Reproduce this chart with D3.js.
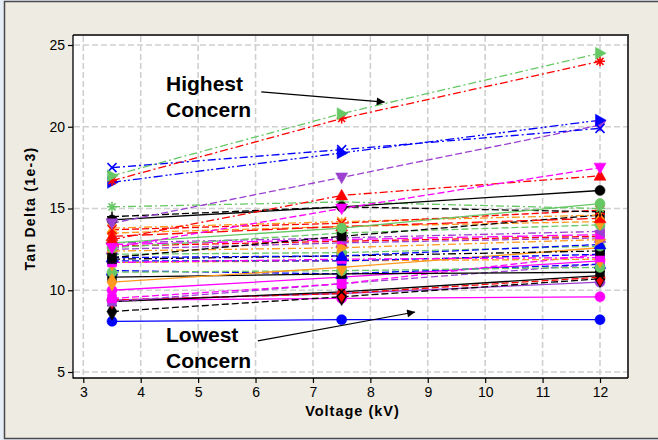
<!DOCTYPE html>
<html>
<head>
<meta charset="utf-8">
<script src="https://cdn.jsdelivr.net/npm/d3@7"></script>
<style>
  html, body { margin: 0; padding: 0; background: #e6eef7; }
  svg { display: block; font-family: "Liberation Sans", Arial, sans-serif; }
</style>
</head>
<body>
<svg id="chart" width="658" height="440"></svg>
<script>
// Voltage steps at which tan delta was measured
const voltages = [3.5, 7.5, 12];

// Axis ticks
const xTicks = [3, 4, 5, 6, 7, 8, 9, 10, 11, 12];
const yTicks = [5, 10, 15, 20, 25];

// Tan delta (1e-3) per cable sample, at 3.5 / 7.5 / 12 kV
const seriesValues = [
  [17.0, 20.8, 24.5],
  [16.7, 20.5, 24.0],
  [17.5, 18.6, 19.9],
  [16.6, 18.4, 20.4],
  [14.1, 16.9, 20.1],
  [12.6, 15.0, 17.5],
  [13.1, 15.8, 17.0],
  [14.3, 15.1, 16.1],
  [12.9, 13.8, 15.3],
  [15.1, 15.4, 15.0],
  [14.5, 15.1, 14.8],
  [13.7, 14.1, 14.9],
  [13.8, 14.2, 14.6],
  [13.3, 13.9, 14.4],
  [12.0, 13.3, 14.6],
  [13.5, 13.9, 14.2],
  [12.6, 13.5, 14.0],
  [12.9, 13.2, 13.6],
  [12.8, 13.1, 13.4],
  [12.4, 12.6, 13.1],
  [12.7, 13.0, 13.3],
  [12.5, 12.9, 13.2],
  [12.0, 12.1, 12.8],
  [12.2, 12.3, 12.7],
  [11.9, 12.1, 12.4],
  [11.7, 11.9, 12.0],
  [11.8, 11.8, 12.2],
  [11.7, 11.8, 11.9],
  [10.5, 11.4, 12.6],
  [11.1, 11.2, 11.4],
  [10.8, 11.0, 11.1],
  [11.2, 11.0, 11.6],
  [10.0, 10.8, 11.8],
  [9.5, 10.4, 12.2],
  [9.3, 10.4, 11.6],
  [9.3, 9.9, 10.9],
  [9.4, 9.8, 10.8],
  [8.7, 9.6, 10.7],
  [9.4, 9.8, 10.5],
  [9.4, 9.5, 9.6],
  [8.1, 8.2, 8.2]
];

// Line colour, dash style and marker of each sample, same order as above
const seriesColors = [
  "green", "red", "blue", "blue", "purple", "magenta", "red", "black", "green", "green",
  "black", "red", "orange", "red", "black", "orange", "green", "purple", "magenta", "orange",
  "red", "purple", "blue", "green", "black", "magenta", "blue", "orange", "orange", "green",
  "black", "blue", "magenta", "magenta", "purple", "black", "red", "black", "purple", "magenta",
  "blue"
];
const seriesDashes = [
  "dashdot", "dashdot", "dashdot", "dashdotdot", "dash", "dash", "dashdot", "solid", "solid", "dashdot",
  "dash", "dash", "dashdot", "longdash", "dash", "dash", "dash", "dashdot", "longdash", "dashdot",
  "dash", "dash", "dash", "dash", "dashdot", "dashdot", "dash", "dash", "solid", "dash",
  "solid", "dash", "solid", "dash", "dash", "solid", "dash", "dash", "solid", "solid",
  "solid"
];
const seriesMarkers = [
  "triRight", "asterisk", "cross", "triRight", "triDown", "triDown", "triUp", "circle", "circle", "asterisk",
  "plus", "cross", "cross", "triUp", "square", "diamond", "circle", "triLeft", "square", "triRight",
  "cross", "triUp", "triUp", "circle", "square", "square", "square", "diamond", "diamond", "circle",
  "square", "triUp", "circle", "square", "square", "cross", "diamond", "diamond", "circle", "circle",
  "circle"
];

const palette = {
  blue: "#0000ff", red: "#ff0000", green: "#66c864", black: "#000000",
  magenta: "#ff00ff", orange: "#ff9a1e", purple: "#9b40d0"
};
const dashArrays = {
  solid: null, dash: "7,3", longdash: "11,4", dashdot: "8,3,2,3", dashdotdot: "9,3,2,2,2,3"
};

const svg = d3.select("#chart");
const W = 658, H = 440;

// Outer panel
svg.append("rect").attr("x", 4.5).attr("y", 1.5).attr("width", W).attr("height", H - 3)
  .attr("fill", "#eeebe2").attr("stroke", "#4a4a4a").attr("stroke-width", 1.5);

const plot = { left: 73, top: 35, right: 628, bottom: 378 };

const x = d3.scaleLinear().domain([3, 12]).range([83.3, 600]);
const y = d3.scaleLinear().domain([5, 25]).range([372, 45]);

svg.append("rect").attr("x", plot.left).attr("y", plot.top)
  .attr("width", plot.right - plot.left).attr("height", plot.bottom - plot.top)
  .attr("fill", "#ffffff");

// Grid
const grid = svg.append("g").attr("stroke", "#d0d0d0").attr("stroke-width", 1.6)
  .attr("stroke-dasharray", "6,3");
grid.selectAll("line.gx").data(xTicks).join("line")
  .attr("x1", d => x(d)).attr("x2", d => x(d))
  .attr("y1", plot.top + 1).attr("y2", plot.bottom - 1);
grid.selectAll("line.gy").data(yTicks).join("line")
  .attr("y1", d => y(d)).attr("y2", d => y(d))
  .attr("x1", plot.left + 1).attr("x2", plot.right - 1);

// Frame: dark top/right edges, black axis edges
svg.append("path")
  .attr("d", `M${plot.left},${plot.top}H${plot.right}V${plot.bottom}`)
  .attr("fill", "none").attr("stroke", "#3c3c3c").attr("stroke-width", 2);

// Axes
const xAxis = d3.axisBottom(x).tickValues(xTicks).tickSize(5).tickSizeOuter(0).tickPadding(4);
const yAxis = d3.axisLeft(y).tickValues(yTicks).tickSize(5).tickSizeOuter(0).tickPadding(3);

const gx = svg.append("g").attr("transform", `translate(0,${plot.bottom})`).call(xAxis);
const gy = svg.append("g").attr("transform", `translate(${plot.left},0)`).call(yAxis);
[gx, gy].forEach(g => {
  g.select(".domain").remove();
  g.selectAll("line").attr("stroke", "#000").attr("stroke-width", 1.2);
  g.selectAll("text").attr("fill", "#000").style("font-size", "14px")
    .style("font-family", "'Liberation Sans', Arial, sans-serif");
});
svg.append("line").attr("x1", plot.left).attr("x2", plot.left)
  .attr("y1", plot.top).attr("y2", plot.bottom + 0.5).attr("stroke", "#000").attr("stroke-width", 1.3);
svg.append("line").attr("x1", plot.left).attr("x2", plot.right)
  .attr("y1", plot.bottom).attr("y2", plot.bottom).attr("stroke", "#000").attr("stroke-width", 1.3);

// Axis titles
svg.append("text").attr("x", (plot.left + plot.right) / 2 + 2).attr("y", 416)
  .attr("text-anchor", "middle").attr("font-weight", "bold").style("font-size", "14.5px")
  .style("letter-spacing", "1px")
  .text("Voltage (kV)");
svg.append("text").attr("transform", `translate(35,${(plot.top + plot.bottom) / 2 + 2}) rotate(-90)`)
  .attr("text-anchor", "middle").attr("font-weight", "bold").style("font-size", "14px")
  .style("letter-spacing", "1.3px")
  .text("Tan Delta (1e-3)");

// Marker shapes
function markerPath(type, s) {
  switch (type) {
    case "circle": return d3.symbol(d3.symbolCircle, s * s * 0.8)();
    case "square": return d3.symbol(d3.symbolSquare, s * s * 0.8)();
    case "diamond": return d3.symbol(d3.symbolDiamond, s * s * 0.9)();
    case "triUp": return `M0,${-s * 0.62}L${s * 0.6},${s * 0.45}L${-s * 0.6},${s * 0.45}Z`;
    case "triDown": return `M0,${s * 0.62}L${s * 0.6},${-s * 0.45}L${-s * 0.6},${-s * 0.45}Z`;
    case "triRight": return `M${s * 0.62},0L${-s * 0.45},${s * 0.6}L${-s * 0.45},${-s * 0.6}Z`;
    case "triLeft": return `M${-s * 0.62},0L${s * 0.45},${s * 0.6}L${s * 0.45},${-s * 0.6}Z`;
    case "cross": { const r = s * 0.45; return `M${-r},${-r}L${r},${r}M${-r},${r}L${r},${-r}`; }
    case "plus": { const r = s * 0.5; return `M${-r},0L${r},0M0,${-r}L0,${r}`; }
    case "asterisk": { const r = s * 0.5, q = r * 0.7;
      return `M${-r},0L${r},0M${-q},${-q}L${q},${q}M${-q},${q}L${q},${-q}M0,${-r}L0,${r}`; }
  }
}
const strokeOnly = new Set(["cross", "plus", "asterisk"]);

const series = seriesValues.map((vals, i) => ({
  values: vals.map((v, j) => ({ v: voltages[j], t: v })),
  color: palette[seriesColors[i]],
  dash: dashArrays[seriesDashes[i]],
  marker: seriesMarkers[i]
}));

const line = d3.line().x(d => x(d.v)).y(d => y(d.t));
const lines = svg.append("g");
// Draw bottom-most series last so the low lines stay visible on top
series.slice().reverse().forEach(s => {
  lines.append("path").attr("d", line(s.values))
    .attr("fill", "none").attr("stroke", s.color).attr("stroke-width", 1.3)
    .attr("stroke-dasharray", s.dash);
});
const marks = svg.append("g");
series.slice().reverse().forEach(s => {
  marks.selectAll(null).data(s.values).join("path")
    .attr("transform", d => `translate(${x(d.v)},${y(d.t)})`)
    .attr("d", markerPath(s.marker, 10))
    .attr("fill", strokeOnly.has(s.marker) ? "none" : s.color)
    .attr("stroke", s.color)
    .attr("stroke-width", strokeOnly.has(s.marker) ? 1.5 : 0.5);
});

// Annotations
const note = svg.append("g").attr("font-weight", "bold").style("font-size", "21px").attr("fill", "#000");
note.append("text").attr("x", 166).attr("y", 91).text("Highest");
note.append("text").attr("x", 166).attr("y", 117).text("Concern");
note.append("text").attr("x", 166).attr("y", 342).text("Lowest");
note.append("text").attr("x", 166).attr("y", 368).text("Concern");

svg.append("defs").append("marker").attr("id", "arrowHead")
  .attr("viewBox", "0 0 10 10").attr("refX", 10).attr("refY", 5)
  .attr("markerWidth", 10).attr("markerHeight", 8).attr("markerUnits", "userSpaceOnUse")
  .attr("orient", "auto")
  .append("path").attr("d", "M0,0L10,5L0,10Z").attr("fill", "#000");

const arrows = [
  { from: [6.10, 22.13], to: [8.25, 21.51] },
  { from: [6.04, 6.90], to: [8.78, 8.67] }
];
svg.append("g").selectAll("line").data(arrows).join("line")
  .attr("x1", d => x(d.from[0])).attr("y1", d => y(d.from[1]))
  .attr("x2", d => x(d.to[0])).attr("y2", d => y(d.to[1]))
  .attr("stroke", "#000").attr("stroke-width", 1.2)
  .attr("marker-end", "url(#arrowHead)");
</script>
</body>
</html>
